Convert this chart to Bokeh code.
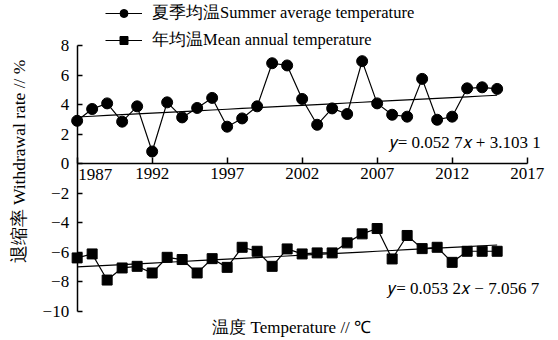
from bokeh.plotting import figure
from bokeh.models import Range1d, Label, Legend, LegendItem, ColumnDataSource, FixedTicker
from bokeh.embed import file_html
from bokeh.resources import INLINE

years = list(range(1987, 2016))
summer = [2.9, 3.7, 4.08, 2.84, 3.88, 0.82, 4.15, 3.13, 3.77, 4.45,
          2.5, 3.06, 3.88, 6.8, 6.65, 4.38, 2.63, 3.74, 3.36, 6.94,
          4.08, 3.31, 3.18, 5.74, 2.97, 3.18, 5.1, 5.17, 5.06]
annual = [-6.39, -6.12, -7.89, -7.07, -6.96, -7.41, -6.35, -6.5, -7.41, -6.44,
          -7.03, -5.67, -5.94, -6.96, -5.78, -6.12, -6.05, -6.05, -5.37, -4.76,
          -4.4, -6.46, -4.87, -5.76, -5.67, -6.69, -5.94, -5.94, -5.94]
x_ticks = [1987, 1992, 1997, 2002, 2007, 2012, 2017]
y_ticks = [8, 6, 4, 2, 0, -2, -4, -6, -8, -10]
summer_fit = (0.0527, 3.1031)
annual_fit = (0.0532, -7.0567)
summer_label = "夏季均温Summer average temperature"
annual_label = "年均温Mean annual temperature"
summer_eq = "𝑦= 0.052 7𝑥 + 3.103 1"
annual_eq = "𝑦= 0.053 2𝑥 − 7.056 7"
y_title = "退缩率 Withdrawal rate // %"
x_title = "温度 Temperature // ℃"

FONT = "Liberation Serif"

idx = [i + 1 for i in range(len(years))]
src = ColumnDataSource(dict(
    year=years, summer=summer, annual=annual,
    summer_fit=[summer_fit[0] * k + summer_fit[1] for k in idx],
    annual_fit=[annual_fit[0] * k + annual_fit[1] for k in idx],
))

# the frame fills the whole canvas; axes are placed at fixed data locations
p = figure(width=558, height=340, output_backend="svg", toolbar_location=None,
           x_range=Range1d(1981.89, 2019.09), y_range=Range1d(-11.985, 11.05),
           min_border=0)
p.outline_line_color = None
p.grid.visible = False
p.background_fill_color = "white"
p.border_fill_color = "white"

p.line("year", "summer_fit", source=src, line_color="black", line_width=1.2)
p.line("year", "annual_fit", source=src, line_color="black", line_width=1.2)

l1 = p.line("year", "summer", source=src, line_color="black", line_width=1.2)
s1 = p.scatter("year", "summer", source=src, marker="circle", size=11,
               fill_color="black", line_color="black")
l2 = p.line("year", "annual", source=src, line_color="black", line_width=1.2)
s2 = p.scatter("year", "annual", source=src, marker="square", size=10,
               fill_color="black", line_color="black")

xa = p.xaxis[0]
xa.fixed_location = 0
xa.bounds = (x_ticks[0], x_ticks[-1])
xa.ticker = FixedTicker(ticks=x_ticks)
xa.major_label_overrides = {x_ticks[0]: ""}
xa.minor_tick_line_color = None
xa.major_tick_in = 6
xa.major_tick_out = 0
xa.axis_line_width = 1.5
xa.major_tick_line_width = 1.5
xa.major_label_text_font = FONT
xa.major_label_text_font_size = "17px"
xa.major_label_text_color = "black"
xa.major_label_standoff = 4

ya = p.yaxis[0]
ya.fixed_location = x_ticks[0]
ya.bounds = (y_ticks[-1], y_ticks[0])
ya.ticker = FixedTicker(ticks=y_ticks)
ya.major_label_overrides = {t: str(t).replace("-", "−") for t in y_ticks if t < 0}
ya.minor_tick_line_color = None
ya.major_tick_in = 5
ya.major_tick_out = 0
ya.axis_line_width = 1.5
ya.major_tick_line_width = 1.5
ya.major_label_text_font = FONT
ya.major_label_text_font_size = "17px"
ya.major_label_text_color = "black"
ya.major_label_standoff = 8

# first x tick label, shifted right off the y axis as in the reference
p.add_layout(Label(x=x_ticks[0], y=0, text=str(x_ticks[0]), x_offset=1, y_offset=-5,
                   text_align="left", text_baseline="top", text_font=FONT,
                   text_font_size="17px", text_color="black"))

# regression equations
p.add_layout(Label(x=2017.9, y=1.45, text=summer_eq, text_align="right",
                   text_baseline="middle", text_font=FONT, text_font_size="17px",
                   text_color="black"))
p.add_layout(Label(x=2017.8, y=-8.46, text=annual_eq, text_align="right",
                   text_baseline="middle", text_font=FONT, text_font_size="17px",
                   text_color="black"))

# axis titles
p.add_layout(Label(x=1983.1, y=0.14, text=y_title, angle=90, angle_units="deg",
                   text_align="center", text_baseline="middle", text_font=FONT,
                   text_font_size="17.5px", text_color="black"))
p.add_layout(Label(x=2001.3, y=-11.13, text=x_title, text_align="center",
                   text_baseline="middle", text_font=FONT, text_font_size="17px",
                   text_color="black"))

legend = Legend(items=[LegendItem(label=summer_label, renderers=[l1, s1]),
                       LegendItem(label=annual_label, renderers=[l2, s2])],
                location=(105, 289), orientation="vertical",
                glyph_width=37, glyph_height=20, label_height=20, spacing=5,
                label_standoff=10, padding=0, margin=0,
                border_line_color=None, background_fill_alpha=0,
                label_text_font=FONT, label_text_font_size="16.5px",
                label_text_color="black")
p.add_layout(legend)

open("out.html", "w").write(file_html(p, INLINE))
